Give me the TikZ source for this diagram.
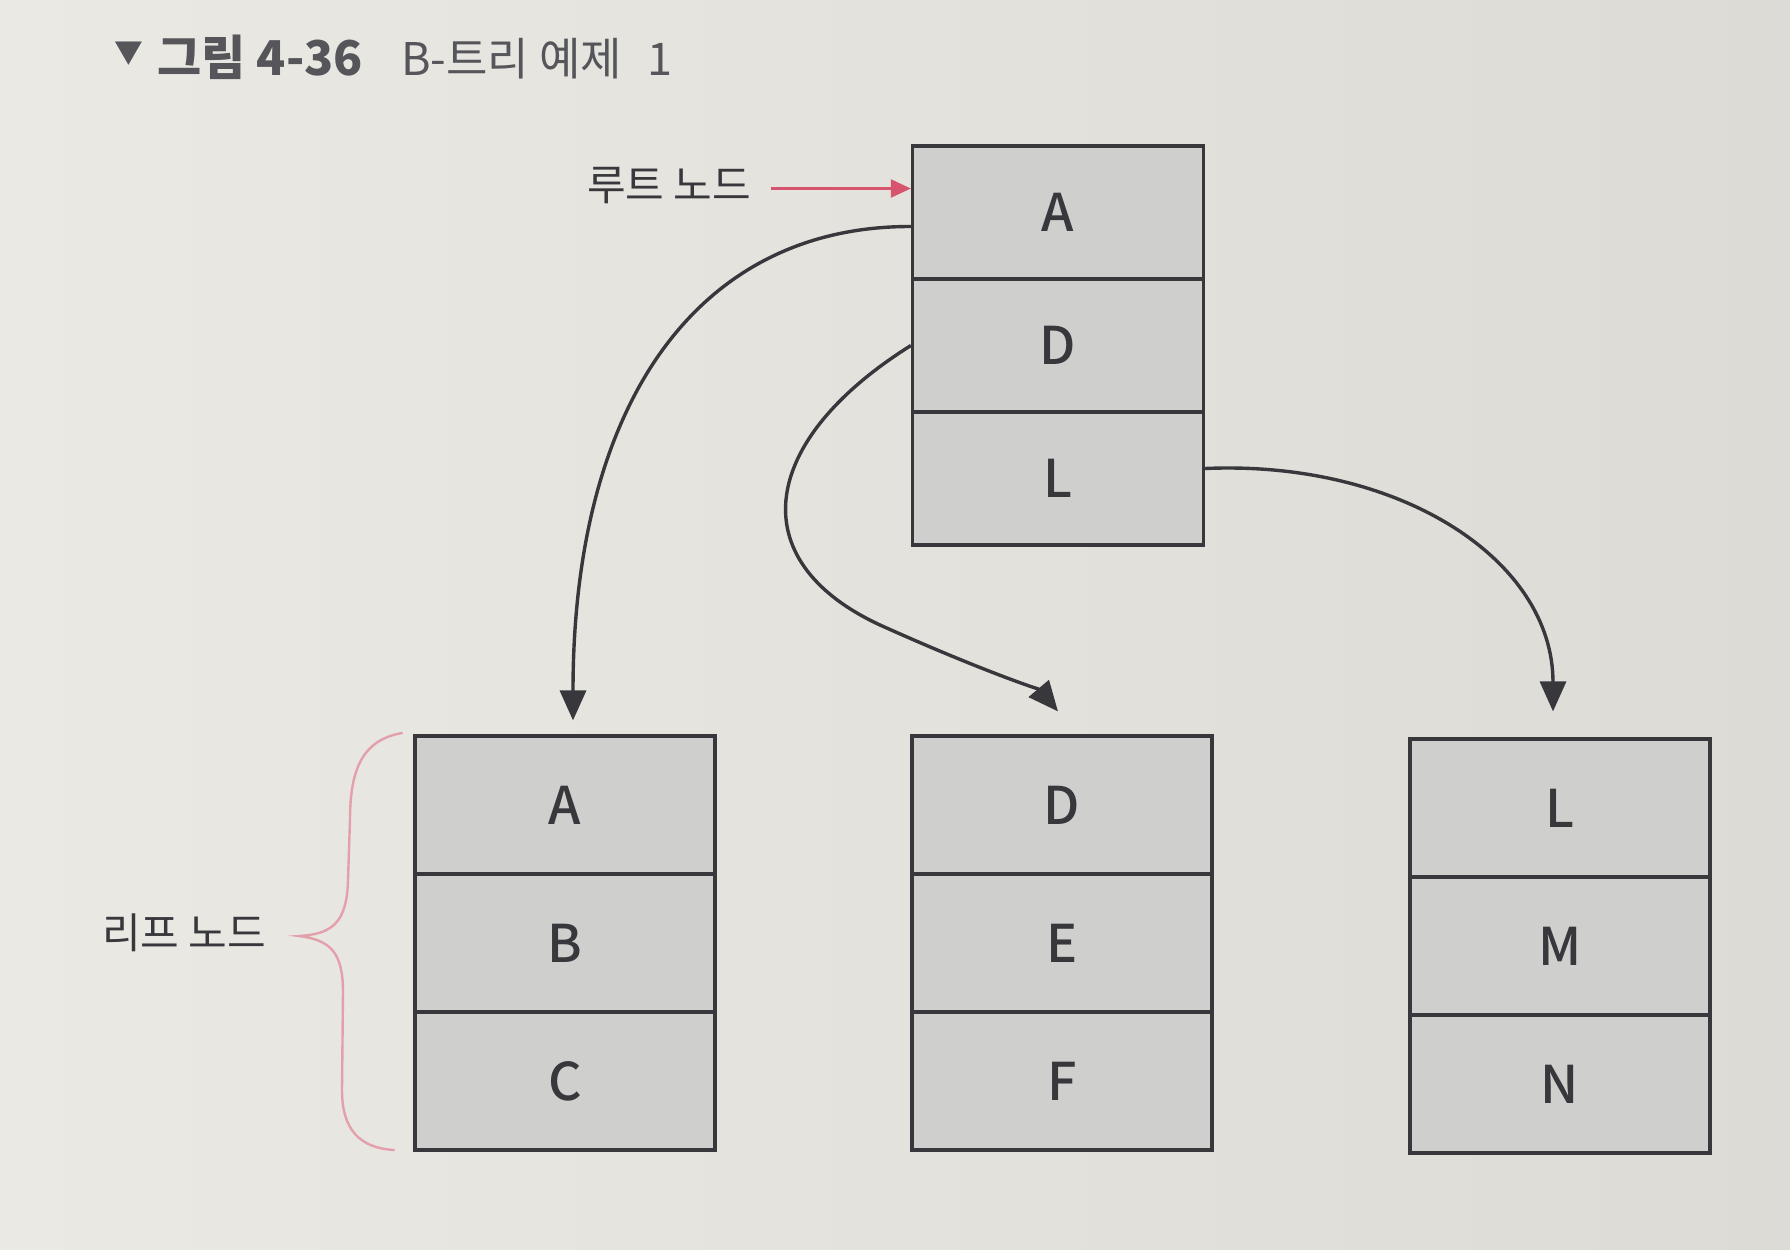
\documentclass[tikz,border=0pt]{standalone}
\usepackage{fontspec}
\setmainfont{Noto Sans CJK KR}
\newfontfamily\medfont{Noto Sans CJK KR Medium}
\usetikzlibrary{arrows.meta}
\definecolor{bgL}{RGB}{235,233,228}
\definecolor{bgR}{RGB}{221,219,214}
\definecolor{cellfill}{RGB}{207,207,205}
\definecolor{edge}{RGB}{55,55,60}
\definecolor{pinkarr}{RGB}{214,84,110}
\definecolor{pinkbrace}{RGB}{228,160,170}
\definecolor{titlegray}{RGB}{85,85,90}
\definecolor{lblgray}{RGB}{55,55,60}
\begin{document}
\begin{tikzpicture}[x=0.5pt,y=-0.5pt,
  rootcell/.style={draw=edge, line width=1.6pt, fill=cellfill, minimum width=145.5pt, minimum height=66.5pt, inner sep=0pt, text=lblgray, font=\medfont\fontsize{26}{26}\selectfont},
  leafcell/.style={rootcell, minimum width=150pt, minimum height=69pt},
  lbl/.style={inner sep=0pt, text=lblgray, font=\fontsize{21}{21}\selectfont},
  conn/.style={draw=edge, line width=1.7pt, -{Triangle[length=15pt,width=13pt]}},
  pk/.style={draw=pinkarr, line width=1.1pt, -{Triangle[length=10pt,width=9pt]}},
  brc/.style={draw=pinkbrace, line width=1.2pt, line cap=round}
]
\useasboundingbox (0,0) rectangle (1790,1249);
\shade[left color=bgL, right color=bgR] (0,0) rectangle (1790,1249);

% title
\node[anchor=west, inner sep=0pt, text=titlegray, font=\fontsize{24}{24}\selectfont] (title) at (114,57)
  {\raisebox{0.25em}{\scalebox{0.6}{▼}}\hspace{0.3em}\textbf{그림 4-36}\hspace{0.8em}{\fontsize{22.5}{24}\selectfont B-트리 예제\hspace{0.55em}1}};

% root node
\node[rootcell] (r1) at (1058,212.5) {A};
\node[rootcell] (r2) at (1058,345.5) {D};
\node[rootcell] (r3) at (1058,478.5) {L};

% leaves
\node[leafcell] (a1) at (565,805) {A};
\node[leafcell] (a2) at (565,943) {B};
\node[leafcell] (a3) at (565,1081) {C};

\node[leafcell] (b1) at (1062,805) {D};
\node[leafcell] (b2) at (1062,943) {E};
\node[leafcell] (b3) at (1062,1081) {F};

\node[leafcell] (c1) at (1560,808) {L};
\node[leafcell] (c2) at (1560,946) {M};
\node[leafcell] (c3) at (1560,1084) {N};

% labels
\node[lbl] (rootlbl) at (669,186) {루트 노드};
\node[lbl] (leaflbl) at (184,933) {리프 노드};

% pink arrow to root
\draw[pk, shorten <=10pt] ([yshift=12pt]r1.west -| rootlbl.east) -- ([yshift=12pt]r1.west);

% brace
\draw[brc] (402,733) .. controls (362,740) and (350,770) .. (350,820)
  -- (348,880) .. controls (347,925) and (330,934) .. (299,936)
  .. controls (330,940) and (343,952) .. (343,992)
  -- (342,1090) .. controls (342,1130) and (360,1148) .. (394,1150);

% connectors
\coordinate (ta) at ([xshift=4pt,yshift=7pt]a1.north);
\coordinate (tb) at ([xshift=-2pt,yshift=11.5pt]b1.north);
\coordinate (tc) at ([xshift=-3.5pt,yshift=13pt]c1.north);
\draw[conn] ([yshift=-7pt]r1.west) .. controls (700,226) and (573,400) .. (ta);
\draw[conn] (r2.west) .. controls (760,440) and (740,560) .. (880,625)
  .. controls (980,670) and (1040,690) .. (tb);
\draw[conn] ([yshift=5pt]r3.east) .. controls (1400,460) and (1553,560) .. (tc);
\end{tikzpicture}
\end{document}
